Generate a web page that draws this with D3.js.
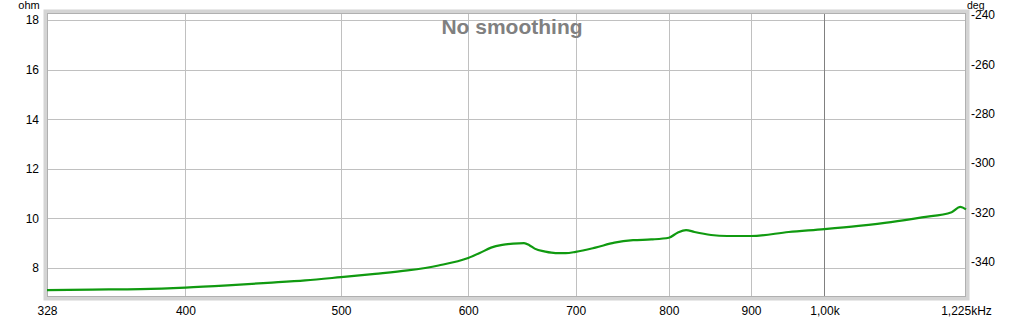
<!DOCTYPE html>
<html>
<head>
<meta charset="utf-8">
<script src="https://cdn.jsdelivr.net/npm/d3@7"></script>
<style>
  body { margin: 0; background: #fff; }
  text { font-family: "Liberation Sans", Arial, sans-serif; }
</style>
</head>
<body>
<div id="container"></div>
<script>
var width = 1024,
    height = 321,
    margin = { left: 47, top: 13, right: 58, bottom: 24 },
    gWidth = width - margin.left - margin.right,
    gHeight = height - margin.top - margin.bottom;

// data
var freq = [328, 350, 375, 400, 425, 450, 475, 500, 525, 550, 575, 600, 610, 620, 630, 640, 650, 655, 660, 670, 680, 690, 700, 720, 740, 760, 780, 800, 810, 820, 830, 850, 870, 900, 950, 1000, 1050, 1100, 1150, 1200, 1215, 1225];
var ohm = [7.11, 7.13, 7.15, 7.21, 7.3, 7.4, 7.5, 7.63, 7.76, 7.9, 8.1, 8.4, 8.6, 8.82, 8.93, 8.98, 9.0, 8.92, 8.78, 8.66, 8.6, 8.6, 8.65, 8.82, 9.02, 9.12, 9.15, 9.22, 9.42, 9.53, 9.45, 9.33, 9.29, 9.29, 9.45, 9.57, 9.7, 9.85, 10.04, 10.25, 10.46, 10.36];
var xTicks = [328, 400, 500, 600, 700, 800, 900, 1000, 1225];
var xTickLabels = ['328', '400', '500', '600', '700', '800', '900', '1,00k', '1,225kHz'];
var ohmTicks = [8, 10, 12, 14, 16, 18];
var degTicks = [-240, -260, -280, -300, -320, -340];

var svg = d3.select('#container')
    .append('svg')
    .attr('width', width)
    .attr('height', height);
var g = svg.append('g')
    .attr('transform', 'translate(' + margin.left + ',' + margin.top + ')');

var scaleX = d3.scaleLog()
    .domain([328, 1225])
    .range([0, gWidth]);
var scaleY = d3.scaleLinear()
    .domain([6.83, 18.28])
    .range([gHeight, 0]);
var scaleDeg = d3.scaleLinear()
    .domain([-354.2, -239.2])
    .range([gHeight, 0]);

// frame shadow
g.append('rect')
    .attr('x', -1.5).attr('y', -1.5)
    .attr('width', gWidth + 3).attr('height', gHeight + 3)
    .attr('fill', 'none')
    .attr('stroke', '#d4d4d4')
    .attr('stroke-width', 4);

// grid
g.selectAll('.hgrid')
    .data(ohmTicks)
    .enter().append('line')
    .attr('x1', 0).attr('x2', gWidth)
    .attr('y1', function(d) { return Math.round(scaleY(d)) + 0.5; })
    .attr('y2', function(d) { return Math.round(scaleY(d)) + 0.5; })
    .attr('stroke', '#c0c0c0');

g.selectAll('.vgrid')
    .data(xTicks.slice(1, -1))
    .enter().append('line')
    .attr('y1', 0).attr('y2', gHeight)
    .attr('x1', function(d) { return Math.round(scaleX(d)) + 0.5; })
    .attr('x2', function(d) { return Math.round(scaleX(d)) + 0.5; })
    .attr('stroke', function(d) { return d === 1000 ? '#808080' : '#c0c0c0'; });

g.append('rect')
    .attr('x', 0.5).attr('y', 0.5)
    .attr('width', gWidth - 1).attr('height', gHeight - 1)
    .attr('fill', 'none')
    .attr('stroke', '#b0b0b0');

// left axis
var yAxis = d3.axisLeft(scaleY).tickValues(ohmTicks).tickSize(0).tickPadding(8);
g.append('g').call(yAxis)
    .call(function(a) { a.select('.domain').remove(); })
    .selectAll('text').attr('font-size', 12).attr('fill', '#000')
    .style('font-family', '"Liberation Sans", Arial, sans-serif');

// right axis
var degAxis = d3.axisRight(scaleDeg).tickValues(degTicks).tickSize(0).tickPadding(5)
    .tickFormat(function(d) { return String(d); });
g.append('g').attr('transform', 'translate(' + gWidth + ',0)').call(degAxis)
    .call(function(a) { a.select('.domain').remove(); })
    .selectAll('text').attr('font-size', 12).attr('fill', '#000')
    .style('font-family', '"Liberation Sans", Arial, sans-serif');

// bottom axis
var xAxis = d3.axisBottom(scaleX).tickValues(xTicks).tickSize(0).tickPadding(9)
    .tickFormat(function(d, i) { return xTickLabels[i]; });
g.append('g').attr('transform', 'translate(0,' + gHeight + ')').call(xAxis)
    .call(function(a) { a.select('.domain').remove(); })
    .selectAll('text').attr('font-size', 12).attr('fill', '#000')
    .style('font-family', '"Liberation Sans", Arial, sans-serif');

// unit labels
svg.append('text').attr('x', 29).attr('y', 9).attr('text-anchor', 'middle')
    .attr('font-size', 11).text('ohm');
svg.append('text').attr('x', 967).attr('y', 8.5)
    .attr('font-size', 10.5).text('deg');

// title
svg.append('text').attr('x', 512).attr('y', 34).attr('text-anchor', 'middle')
    .attr('font-size', 21).attr('font-weight', 'bold').attr('fill', '#808080')
    .text('No smoothing');

// curve
var line = d3.line()
    .x(function(d, i) { return scaleX(freq[i]); })
    .y(function(d) { return scaleY(d); })
    .curve(d3.curveMonotoneX);

g.append('path')
    .attr('d', line(ohm))
    .attr('fill', 'none')
    .attr('stroke', '#109a10')
    .attr('stroke-width', 2.2);
</script>
</body>
</html>
